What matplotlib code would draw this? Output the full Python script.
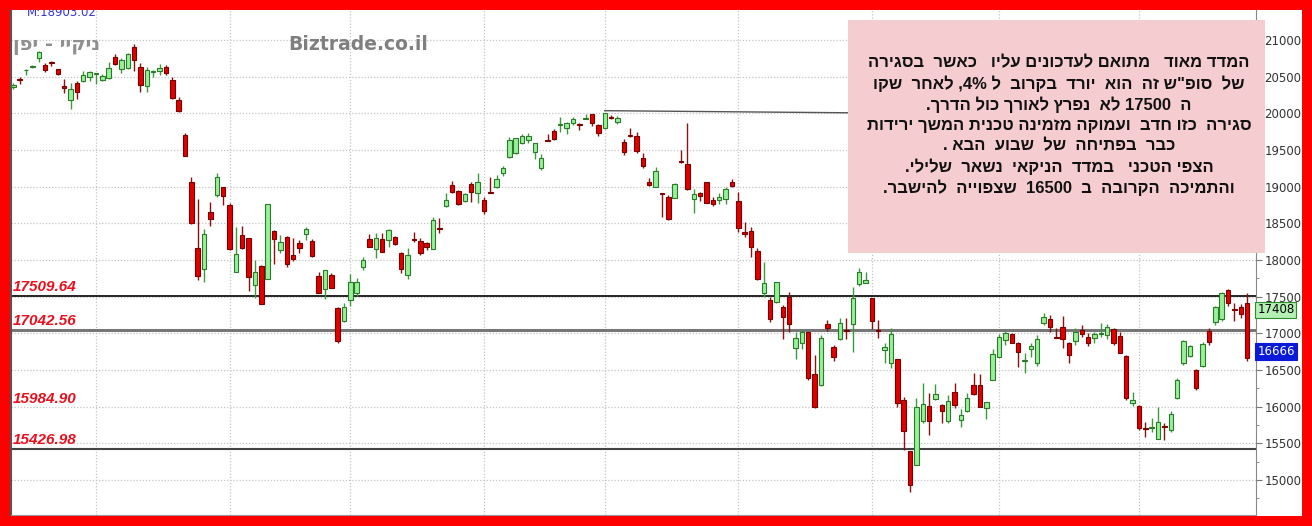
import re
import numpy as np
import matplotlib
matplotlib.use("Agg")
import matplotlib.pyplot as plt
import matplotlib.transforms as mtrans
from matplotlib.patches import Rectangle

# ---- data (daily OHLC) ----
opens = [20355, 20470, 20585, 20630, 20754, 20659, 20695, 20600, 20373, 20182,
         20418, 20445, 20500, 20540, 20455, 20478, 20764, 20600, 20614, 20909,
         20627, 20373, 20560, 20582, 20636, 20454, 20182, 19704, 19059, 18159,
         17872, 18658, 18886, 18999, 18749, 17840, 18340, 18304, 17658, 17917,
         17735, 18399, 18135, 18317, 18067, 18226, 18354, 18263, 17781, 17599,
         17794, 17340, 17162, 17453, 17544, 17908, 18285, 18144, 18281, 18272,
         18308, 18090, 17794, 18285, 18263, 18227, 18145, 18436, 18736, 19018,
         18941, 18804, 19032, 18909, 18818, 18927, 19000, 19182, 19400, 19455,
         19591, 19636, 19477, 19250, 19636, 19764, 19845, 19795, 19864, 19850,
         19925, 19991, 19841, 19795, 19955, 19886, 19614, 19705, 19691, 19386,
         19068, 19000, 18900, 18854, 18850, 19350, 19309, 18836, 18918, 19059,
         18818, 18818, 18827, 19068, 18804, 18381, 18395, 18122, 17545, 17454,
         17422, 17363, 17500, 16794, 16872, 17022, 16444, 16294, 17127, 16817,
         16917, 17040, 17127, 17668, 17690, 17477, 17045, 16772, 16599, 16645,
         16090, 15399, 15203, 15808, 16008, 16099, 16026, 15808, 16195, 15817,
         15944, 16295, 16295, 15976, 16363, 16672, 16908, 16990, 16863, 16622,
         16781, 16589, 17135, 17190, 16953, 17080, 16862, 16898, 17044, 16953,
         16930, 16990, 16976, 17058, 16962, 16689, 16044, 16016, 15703, 15712,
         15566, 15735, 15680, 16112, 16589, 16689, 16498, 16553, 17035, 17158,
         17189, 17590, 17330, 17353, 17417]
highs = [20418, 20500, 20600, 20660, 20854, 20682, 20710, 20610, 20464, 20409,
         20445, 20581, 20582, 20550, 20530, 20704, 20809, 20750, 20818, 20945,
         20691, 20627, 20590, 20668, 20660, 20500, 20227, 19727, 19136, 18827,
         18418, 18794, 19190, 19000, 18772, 18454, 18463, 18304, 17999, 17930,
         18758, 18408, 18340, 18326, 18294, 18272, 18454, 18281, 17840, 17863,
         17826, 17362, 17417, 17808, 17749, 18044, 18354, 18363, 18372, 18417,
         18326, 18113, 18158, 18385, 18294, 18250, 18590, 18568, 18909, 19082,
         18954, 18918, 19068, 19191, 18863, 19136, 19159, 19282, 19673, 19659,
         19718, 19727, 19600, 19441, 19718, 19782, 19955, 19886, 19945, 19864,
         19991, 19991, 19855, 20009, 19977, 19964, 19645, 19795, 19750, 19464,
         19114, 19273, 18900, 18886, 19045, 19500, 19864, 18963, 18932, 19068,
         18854, 18909, 18991, 19100, 18932, 18523, 18454, 18159, 17977, 17500,
         17704, 17386, 17568, 17022, 17054, 17022, 16704, 16976, 17181, 16840,
         17204, 17204, 17627, 17886, 17840, 17477, 17181, 16863, 17077, 16645,
         16136, 15399, 16113, 16317, 16181, 16304, 16036, 16158, 16317, 15963,
         16190, 16454, 16440, 16067, 16781, 16990, 17036, 17009, 16886, 16726,
         16863, 16976, 17271, 17249, 17067, 17235, 16885, 17067, 17112, 16999,
         17021, 17144, 17126, 17067, 17021, 16703, 16203, 16025, 15794, 15839,
         15989, 15771, 15939, 16385, 16908, 16840, 16508, 16885, 17067, 17371,
         17567, 17599, 17408, 17399, 17544]
lows = [20336, 20400, 20520, 20620, 20704, 20568, 20645, 20522, 20273, 20055,
        20191, 20431, 20445, 20400, 20445, 20464, 20659, 20554, 20600, 20581,
        20295, 20295, 20490, 20523, 20520, 20191, 20022, 19418, 18490, 17727,
        17695, 18463, 18860, 18749, 18135, 17840, 18144, 17576, 17476, 17399,
        17735, 17944, 18099, 17908, 17985, 18090, 18272, 18044, 17544, 17462,
        17612, 16871, 17160, 17371, 17508, 17863, 18172, 18022, 18113, 18172,
        18204, 17817, 17735, 18249, 18067, 18136, 18145, 18363, 18727, 18918,
        18750, 18791, 18795, 18773, 18627, 18909, 18977, 19145, 19386, 19445,
        19582, 19600, 19373, 19227, 19623, 19636, 19750, 19718, 19841, 19773,
        19923, 19827, 19691, 19782, 19918, 19855, 19432, 19682, 19455, 19250,
        19009, 19000, 18590, 18545, 18850, 19327, 18955, 18636, 18809, 18773,
        18736, 18764, 18764, 19000, 18386, 18309, 18045, 17727, 17500, 17159,
        17409, 16917, 17022, 16645, 16781, 16363, 15976, 16281, 17036, 16626,
        16908, 16917, 16749, 17645, 17681, 17054, 16931, 16599, 16522, 16000,
        15408, 14839, 15203, 15781, 15612, 16090, 15772, 15772, 15985, 15726,
        15931, 16158, 15999, 15826, 16363, 16672, 16840, 16863, 16545, 16463,
        16681, 16553, 17112, 17021, 16930, 16794, 16589, 16840, 16953, 16826,
        16862, 16944, 16917, 16840, 16735, 16089, 16007, 15680, 15589, 15657,
        15553, 15544, 15657, 16098, 16566, 16671, 16225, 16535, 16840, 17112,
        17171, 17371, 17171, 17203, 16626]
closes = [20386, 20460, 20595, 20650, 20836, 20587, 20685, 20532, 20341, 20328,
          20295, 20523, 20568, 20548, 20509, 20614, 20668, 20727, 20809, 20727,
          20386, 20591, 20570, 20614, 20545, 20205, 20032, 19422, 18508, 17785,
          18354, 18555, 19127, 18876, 18144, 18076, 18158, 17772, 17840, 17399,
          18758, 18281, 18249, 17944, 18008, 18158, 18417, 18053, 17544, 17863,
          17622, 16899, 17362, 17703, 17703, 17999, 18172, 18294, 18113, 18408,
          18213, 17872, 18067, 18272, 18099, 18181, 18545, 18424, 18818, 18927,
          18759, 18895, 18923, 19068, 18668, 18918, 19100, 19259, 19636, 19659,
          19691, 19691, 19591, 19386, 19627, 19645, 19855, 19873, 19918, 19837,
          19932, 19873, 19727, 20000, 19941, 19932, 19477, 19691, 19491, 19286,
          19023, 19218, 18895, 18554, 19036, 19336, 18963, 18900, 18873, 18773,
          18759, 18864, 18972, 19014, 18432, 18354, 18172, 17736, 17681, 17195,
          17704, 17218, 17127, 16931, 17022, 16385, 15990, 16931, 17068, 16672,
          17145, 17027, 17486, 17840, 17727, 17168, 17027, 16808, 16986, 16054,
          15672, 14926, 15990, 16031, 15808, 16172, 15944, 16081, 16017, 15885,
          16113, 16172, 15999, 16058, 16717, 16945, 16999, 16872, 16749, 16636,
          16827, 16917, 17217, 17080, 16940, 16917, 16703, 17021, 16985, 16862,
          16985, 17000, 17090, 16862, 16735, 16112, 16089, 15703, 15689, 15726,
          15794, 15717, 15894, 16362, 16894, 16826, 16248, 16853, 16885, 17353,
          17553, 17417, 17320, 17262, 16666]

month_starts = [13, 34, 53, 74, 93, 114, 135, 155, 177]
levels = [17509.64, 17042.56, 15984.90, 15426.98]
trend_x = [93, 195]
trend_y = [20036, 19960]
last_prev = 17408
last_close = 16666
max_label = "M:18903.02"
title = "ניקיי - יפן"
note_lines = [
    "המדד מאוד   מתואם לעדכונים עליו   כאשר  בסגירה",
    "של  סופ\"ש זה  הוא  יורד  בקרוב  ל 4%, לאחר  שקו",
    "ה  17500 לא  נפרץ לאורך כול הדרך.",
    "סגירה  כזו חדב  ועמוקה מזמינה טכנית המשך ירידות",
    "כבר  בפתיחה  של  שבוע  הבא .",
    "הצפי הטכני   במדד  הניקאי  נשאר  שלילי.",
    "והתמיכה  הקרובה  ב  16500  שצפוייה  להישבר.",
]


def rtl(s):
    # visual order for right-to-left text, numbers stay left-to-right
    toks = re.findall(r"\d+(?:[.,]\d+)*%?|.", s)
    return "".join(toks[::-1])


W, H = 1312, 526


def box(x0, y0, x1, y1):
    return [x0 / W, 1 - y1 / H, (x1 - x0) / W, (y1 - y0) / H]


fig = plt.figure(figsize=(W / 100, H / 100), dpi=100)
fig.patch.set_facecolor("white")
ax = fig.add_axes(box(11, 10, 1256, 515))

o = np.array(opens, float)
h = np.array(highs, float)
l = np.array(lows, float)
c = np.array(closes, float)
x = np.arange(len(c))
up = c >= o

wick_col = np.where(up, "#3c9a3c", "#8b1010")
body_col = np.where(up, "#98f098", "#e00000")
edge_col = np.where(up, "#2a7a2a", "#7a0000")

ax.vlines(x, l, h, colors=wick_col, lw=1, zorder=3)
ax.bar(x, np.maximum(np.abs(c - o), 12), bottom=np.minimum(o, c), width=0.7,
       color=body_col, edgecolor=edge_col, linewidth=0.8, zorder=4)

# levels
lev_style = [("#000000", 1.2), ("#777777", 2.2), (None, 0), ("#444444", 1.5)]
blend = mtrans.blended_transform_factory(ax.transAxes, ax.transData)
for v, (col, lw) in zip(levels, lev_style):
    if col:
        ax.axhline(v, color=col, lw=lw, zorder=2)
    ax.annotate(f"{v:.2f}", xy=(0, v), xycoords=blend, xytext=(1.5, 3.5),
                textcoords="offset points", ha="left", va="baseline",
                color="#e8101e", fontsize=11, style="italic", weight="bold",
                family="Liberation Sans", zorder=6)

ax.plot(trend_x, trend_y, color="#555555", lw=1, zorder=2)

# axes cosmetics
ax.set_xlim(-0.36, 195.4)
ax.set_ylim(14523, 21409)
ax.yaxis.tick_right()
ax.set_yticks(np.arange(15000, 21001, 500))
ax.set_yticks(np.arange(14750, 21400, 500), minor=True)
ax.tick_params(axis="y", which="major", length=4, color="#777777",
               labelsize=8.5, labelcolor="#333333", pad=2)
ax.tick_params(axis="y", which="minor", length=2, color="#777777")
ax.set_xticks(month_starts)
ax.tick_params(axis="x", length=0, labelbottom=False)
ax.grid(True, which="major", ls=(0, (1, 1.5)), color="#c4c4c4", lw=0.9, zorder=0)
ax.spines["top"].set_visible(False)
ax.spines["left"].set_color("#555555")
ax.spines["left"].set_linewidth(1.5)
ax.spines["right"].set_color("#888888")
ax.spines["bottom"].set_color("#999999")

# last price tags
ax.text(1.001, last_prev, str(last_prev), transform=blend, ha="left", va="top",
        fontsize=8.5, color="#000000", clip_on=False, zorder=6,
        bbox=dict(boxstyle="square,pad=0.15", fc="#b4f0b4", ec="#2e8b2e", lw=0.8))
ax.text(1.001, last_close, str(last_close), transform=blend, ha="left", va="bottom",
        fontsize=8.5, color="white", clip_on=False, zorder=6,
        bbox=dict(boxstyle="square,pad=0.15", fc="#0a1ad8", ec="#0a1ad8", lw=0.8))

# header texts
fig.text(27 / W, 1 - 13 / H, max_label, color="#3333dd", fontsize=8.5, va="center")
fig.text(13 / W, 1 - 45.5 / H, rtl(title), color="#8f8f8f", fontsize=14,
         weight="bold", ha="left", va="center", family=["DejaVu Sans"])
fig.text(358 / W, 1 - 45 / H, "Biztrade.co.il", color="#7f7f7f", fontsize=13.5,
         weight="bold", ha="center", va="center", family="DejaVu Sans")

# comment box
fig.add_artist(Rectangle((848 / W, 1 - 253 / H), (1265 - 848) / W, (253 - 20) / H,
                         transform=fig.transFigure, fc="#f5cdd0", ec="none", zorder=5))
for i, line in enumerate(note_lines):
    fig.text(1059 / W, 1 - (63 + i * 20.8) / H, rtl(line), ha="center", va="center",
             fontsize=12, weight="bold", family=["Liberation Sans", "DejaVu Sans"],
             color="#111111", zorder=6)

# red frame
for r in [(0, 0, 10, H), (1302, 0, W, H), (0, 0, W, 9.5), (0, 516, W, H)]:
    fig.add_artist(Rectangle((r[0] / W, 1 - r[3] / H), (r[2] - r[0]) / W,
                             (r[3] - r[1]) / H, transform=fig.transFigure,
                             fc="#ff0000", ec="none", zorder=20))

fig.savefig("out.png", dpi=100)
